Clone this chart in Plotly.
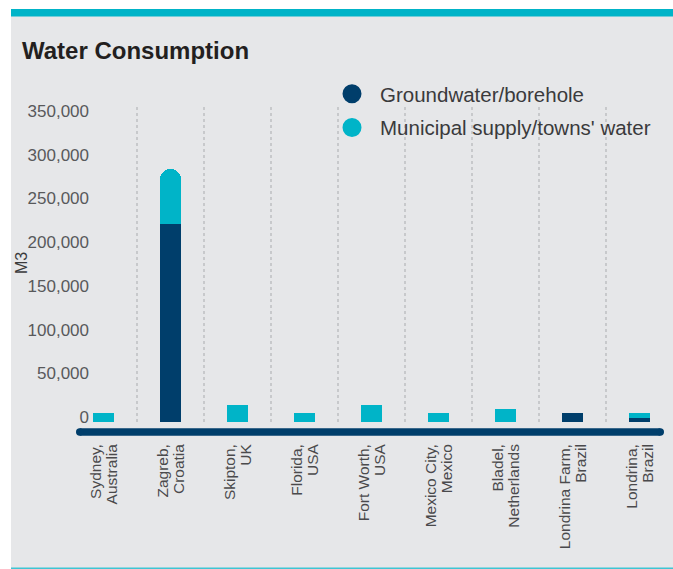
import plotly.graph_objects as go

# ---- data -------------------------------------------------------------
sites = [
    "Sydney, Australia", "Zagreb, Croatia", "Skipton, UK", "Florida, USA",
    "Fort Worth, USA", "Mexico City, Mexico", "Bladel, Netherlands",
    "Londrina Farm, Brazil", "Londrina, Brazil",
]
site_line1 = ["Sydney,", "Zagreb,", "Skipton,", "Florida,", "Fort Worth,",
              "Mexico City,", "Bladel,", "Londrina Farm,", "Londrina,"]
site_line2 = ["Australia", "Croatia", "UK", "USA", "USA", "Mexico",
              "Netherlands", "Brazil", "Brazil"]
groundwater = [0, 226000, 0, 0, 0, 0, 0, 10000, 5000]
municipal = [10000, 63000, 20000, 10000, 20000, 10000, 15000, 0, 5000]
y_ticks = [0, 50000, 100000, 150000, 200000, 250000, 300000, 350000]

# ---- style ------------------------------------------------------------
NAVY = "#003e6b"
CYAN = "#00b4c8"
PANEL = "#e6e7e9"
FONT = "Liberation Sans, Arial, sans-serif"

W, H = 673, 569
PLOT_L, PLOT_R, PLOT_T, PLOT_B = 90, 673, 105, 422
SLOT = 67                       # px per site
X_LO = -0.5 + 20 / SLOT         # first slot starts left of the plot edge
X_HI = len(sites) - 0.5
Y_MAX = 362700
LABEL_GAP = 8                   # half distance between the two label lines
LABEL_STANDOFF = 18


def px_x(p):
    return (p - PLOT_L) / (PLOT_R - PLOT_L)


def px_y(p):
    return (PLOT_B - p) / (PLOT_B - PLOT_T)


# stacked totals; the tallest stack is drawn with a rounded cap
totals = [g + m for g, m in zip(groundwater, municipal)]
tallest = max(totals)
capped_total = [t if t == tallest else None for t in totals]
municipal_flat = [m if t != tallest else None for m, t in zip(municipal, totals)]

fig = go.Figure()
# rounded full-height municipal column, overdrawn by the groundwater part below
fig.add_bar(x=sites, y=capped_total,
            marker=dict(color=CYAN, line=dict(width=0), cornerradius=10),
            width=0.31, showlegend=False, name="Municipal supply/towns' water")
fig.add_bar(x=sites, y=groundwater,
            marker=dict(color=NAVY, line=dict(width=0)),
            width=0.31, showlegend=False, name="Groundwater/borehole")
fig.add_bar(x=sites, y=municipal_flat, base=groundwater,
            marker=dict(color=CYAN, line=dict(width=0)),
            width=0.31, showlegend=False, name="Municipal supply/towns' water")

# legend entries with round markers (placed on the helper axis)
for name, col in [("Groundwater/borehole", NAVY), ("Municipal supply/towns' water", CYAN)]:
    fig.add_scatter(x=[None], y=[None], xaxis="x2", mode="markers", name=name,
                    legendgroup=name,
                    marker=dict(size=16, color=col, symbol="circle",
                                line=dict(width=3, color=col)))

shapes = []
# panel background, top band and bottom rule
shapes.append(dict(type="rect", xref="paper", yref="paper", layer="below",
                   x0=px_x(11), x1=px_x(W + 2), y0=px_y(568), y1=px_y(16),
                   fillcolor=PANEL, line=dict(width=0)))
shapes.append(dict(type="rect", xref="paper", yref="paper", layer="below",
                   x0=px_x(11), x1=px_x(W + 2), y0=px_y(16.5), y1=px_y(9),
                   fillcolor=CYAN, line=dict(width=0)))
shapes.append(dict(type="rect", xref="paper", yref="paper", layer="below",
                   x0=px_x(11), x1=px_x(W + 2), y0=px_y(569.5), y1=px_y(567.5),
                   fillcolor="#3fc5d3", line=dict(width=0)))
# dotted separators between sites
for i in range(len(sites) - 1):
    shapes.append(dict(type="line", xref="x", yref="paper", layer="below",
                       x0=i + 0.5, x1=i + 0.5, y0=0, y1=1,
                       line=dict(color="#a9abae", width=1, dash="dot")))
# thick rounded baseline
AX_Y, AX_R = 432, 3.7
AX_X0, AX_X1 = 76 + AX_R, 664 - AX_R
shapes.append(dict(type="line", xref="paper", yref="paper",
                   x0=px_x(AX_X0), x1=px_x(AX_X1), y0=px_y(AX_Y), y1=px_y(AX_Y),
                   line=dict(color=NAVY, width=2 * AX_R)))
for cx in (AX_X0, AX_X1):
    shapes.append(dict(type="circle", xref="paper", yref="paper",
                       x0=px_x(cx - AX_R), x1=px_x(cx + AX_R),
                       y0=px_y(AX_Y + AX_R), y1=px_y(AX_Y - AX_R),
                       fillcolor=NAVY, line=dict(width=0)))

tick_font = dict(size=15.5, color="#4a4a4c")
fig.update_layout(
    width=W, height=H,
    margin=dict(l=PLOT_L, r=W - PLOT_R, t=PLOT_T, b=H - PLOT_B),
    paper_bgcolor="white", plot_bgcolor="rgba(0,0,0,0)",
    barmode="overlay", bargap=0,
    font=dict(family=FONT, color="#4a4a4c"),
    title=dict(text="Water Consumption", x=22 / W, xanchor="left",
               xref="container", yref="container", y=1 - 51 / H, yanchor="middle",
               font=dict(size=24, color="#231f20", family=FONT, weight="bold")),
    shapes=shapes,
    showlegend=True,
    legend=dict(x=px_x(324), y=px_y(74), xanchor="left", yanchor="top",
                bgcolor="rgba(0,0,0,0)", font=dict(size=20.5, color="#3a3a3c"),
                itemwidth=46, tracegroupgap=4),
    annotations=[dict(text="M3", textangle=-90, xref="paper", yref="paper",
                      x=px_x(21), y=px_y(263), xanchor="center", yanchor="middle",
                      showarrow=False, font=dict(size=16, color="#3a3a3c"))],
    # second line of each site label
    xaxis=dict(range=[X_LO, X_HI], tickmode="array",
               tickvals=list(range(len(sites))), ticktext=site_line2,
               showgrid=False, zeroline=False, showline=False, ticks="",
               tickangle=-90, tickfont=tick_font, ticklabelstandoff=LABEL_STANDOFF,
               ticklabelshift=LABEL_GAP, fixedrange=True),
    # first line of each site label
    xaxis2=dict(overlaying="x", anchor="y", side="bottom", range=[X_LO, X_HI],
                tickmode="array", tickvals=list(range(len(sites))),
                ticktext=site_line1, showgrid=False, zeroline=False,
                showline=False, ticks="", tickangle=-90, tickfont=tick_font,
                ticklabelstandoff=LABEL_STANDOFF, ticklabelshift=-LABEL_GAP,
                fixedrange=True),
)
fig.update_yaxes(range=[0, Y_MAX], tickvals=y_ticks, tickformat=",",
                 showgrid=False, zeroline=False, showline=False, ticks="",
                 tickfont=dict(size=17, color="#58595b"),
                 ticklabelshift=-5, fixedrange=True)

fig.write_html("out.html")
